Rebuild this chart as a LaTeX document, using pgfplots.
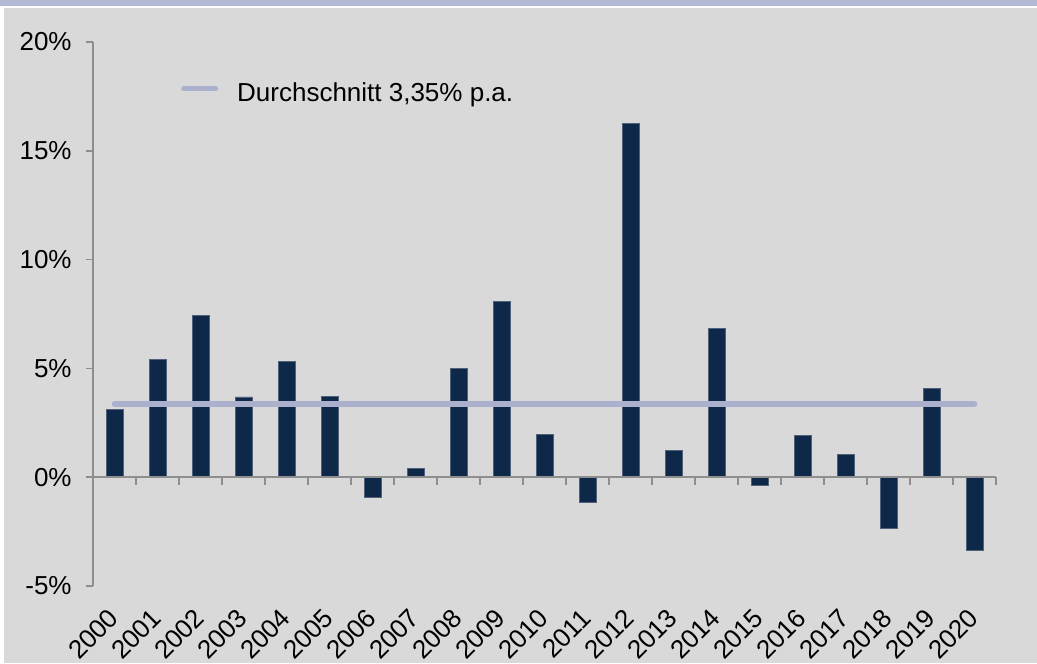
\documentclass[border=0pt]{standalone}
\usepackage{fontspec}
\setmainfont{Liberation Sans}
\usepackage{pgfplots}
\pgfplotsset{compat=1.18}
\definecolor{bggray}{HTML}{D9D9D9}
\definecolor{band}{HTML}{B3B9D4}
\definecolor{navy}{HTML}{0E2849}
\definecolor{navyedge}{HTML}{4F6078}
\definecolor{avg}{HTML}{ABB1CD}
\definecolor{axisgray}{HTML}{8E8E8E}
\begin{document}
\begin{tikzpicture}
\useasboundingbox (-46.5pt,-38.5pt) rectangle (472pt,293pt);
\fill[white] (-46.5pt,-38.5pt) rectangle (472pt,293pt);
\fill[bggray] (-44.5pt,-38.5pt) rectangle (472pt,289pt);
\fill[band] (-46.5pt,290pt) rectangle (472pt,293pt);
\begin{axis}[
  at={(0,0)}, anchor=south west,
  scale only axis, width=451.5pt, height=272pt,
  xmin=-0.5, xmax=20.5, ymin=-5, ymax=20,
  axis y line*=left, axis x line*=bottom,
  x axis line style={draw=none},
  y axis line style={draw=axisgray, line width=0.75pt},
  xtick={0,...,20},
  xticklabels={2000,2001,2002,2003,2004,2005,2006,2007,2008,2009,2010,2011,2012,2013,2014,2015,2016,2017,2018,2019,2020},
  xtick style={draw=none},
  ytick={-5,0,5,10,15,20},
  yticklabels={-5\%,0\%,5\%,10\%,15\%,20\%},
  ytick style={draw=axisgray, line width=0.75pt},
  major tick length=3.5pt,
  tick align=outside,
  ticklabel style={font=\fontsize{13}{15}\selectfont, text=black},
  yticklabel style={inner sep=0pt, xshift=-7pt},
  xticklabel style={xshift=-0.3pt, yshift=-10.2pt, rotate=45, anchor=east, inner sep=0pt},
  legend style={draw=none, fill=none, at={(axis description cs:0.0972,0.905)}, anchor=west,
    inner sep=0pt, nodes={inner sep=0pt}, font=\fontsize{13}{15}\selectfont,
    /tikz/every odd column/.append style={column sep=9.5pt}},
  legend cell align=left,
  clip=false,
]
\addplot[ybar, bar width=8.5pt, fill=navy, draw=navyedge, line width=0.4pt, forget plot]
  coordinates {
  (0,3.13) (1,5.40) (2,7.45) (3,3.69) (4,5.33) (5,3.71) (6,-0.92) (7,0.41)
  (8,5.00) (9,8.06) (10,1.95) (11,-1.15) (12,16.26) (13,1.24) (14,6.84)
  (15,-0.37) (16,1.92) (17,1.04) (18,-2.35) (19,4.09) (20,-3.36)};
\draw[axisgray, line width=0.75pt] (axis cs:-0.5,0) -- (axis cs:20.5,0);
\pgfplotsinvokeforeach{0.5,1.5,...,20.5}{
  \draw[axisgray, line width=0.75pt] (axis cs:#1,0) -- ++(0pt,-3.75pt);
}
\addplot[avg, line width=2.85pt, line cap=round,
  legend image code/.code={\draw[avg, line width=2.75pt, line cap=round] (0pt,0.25em) -- (15.75pt,0.25em);}]
  coordinates {(0,3.35) (20,3.35)};
\addlegendentry{Durchschnitt 3,35\% p.a.}
\end{axis}
\end{tikzpicture}
\end{document}
